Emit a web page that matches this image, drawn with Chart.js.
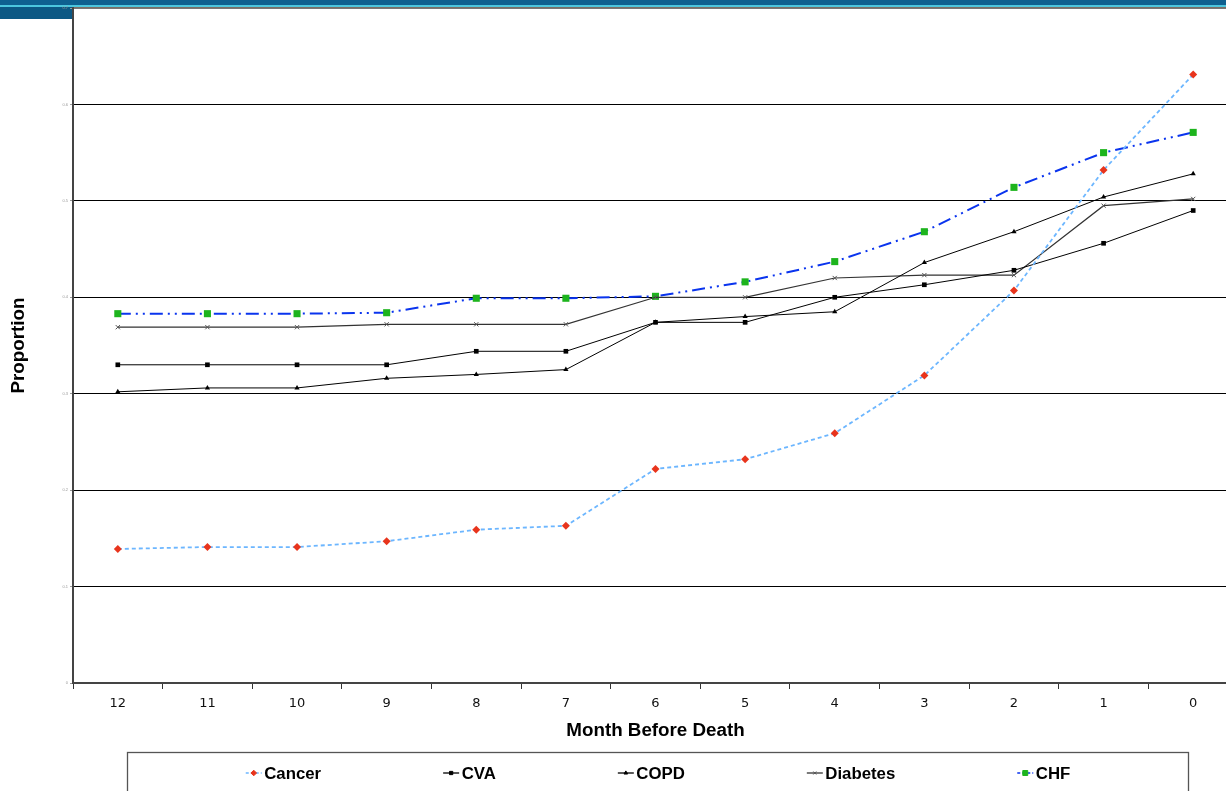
<!DOCTYPE html>
<html><head><meta charset="utf-8">
<script src="https://cdn.jsdelivr.net/npm/chart.js@4.4.1/dist/chart.umd.min.js"></script>
<style>
html,body{margin:0;padding:0;overflow:hidden;background:#fff;width:1226px;height:791px}
#wrap{position:absolute;left:0;top:0;width:1243px;height:791px}
canvas{display:block}
</style></head>
<body><div id="wrap"><canvas id="c" width="1243" height="791" style="width:1243px;height:791px"></canvas></div>
<script>
const months = ['12','11','10','9','8','7','6','5','4','3','2','1','0'];
const cancer   = [0.139,0.141,0.141,0.147,0.159,0.163,0.222,0.232,0.259,0.319,0.407,0.532,0.631];
const cva      = [0.330,0.330,0.330,0.330,0.344,0.344,0.374,0.374,0.400,0.413,0.428,0.456,0.490];
const copd     = [0.302,0.306,0.306,0.316,0.320,0.325,0.374,0.380,0.385,0.436,0.468,0.504,0.528];
const diabetes = [0.369,0.369,0.369,0.372,0.372,0.372,0.400,0.400,0.420,0.423,0.423,0.495,0.502];
const chf      = [0.383,0.383,0.383,0.384,0.399,0.399,0.401,0.416,0.437,0.468,0.514,0.550,0.571];
const yTicks   = [0,0.1,0.2,0.3,0.4,0.5,0.6,0.7];

const bannerPlugin = {
  id:'banner',
  beforeDraw(chart){
    const ctx = chart.ctx;
    ctx.save();
    ctx.fillStyle='#fff'; ctx.fillRect(0,0,chart.width,chart.height);
    ctx.fillStyle='#0e6090'; ctx.fillRect(0,0,chart.width,5);
    ctx.fillStyle='#4cc6de'; ctx.fillRect(0,5,chart.width,2);
    ctx.fillStyle='#7a6e66'; ctx.fillRect(73,7,chart.width,1);
    ctx.fillStyle='#0c5884'; ctx.fillRect(0,7,73,12);
    ctx.restore();
  }
};

const legendPlugin = {
  id:'boxLegend',
  afterDraw(chart){
    const ctx = chart.ctx;
    ctx.save();
    ctx.strokeStyle='#555'; ctx.lineWidth=1.3; ctx.setLineDash([]);
    ctx.strokeRect(127.5,752.5,1061,80);
    ctx.font='bold 16.8px "Liberation Sans", Arial, sans-serif';
    ctx.textBaseline='middle';
    const items = chart.data.datasets.map(ds=>({ds, w:18.5+ctx.measureText(ds.label).width}));
    const gap = 122;
    const total = items.reduce((s,i)=>s+i.w,0)+gap*(items.length-1);
    let x = 658 - total/2;
    const y = 773;
    items.forEach(it=>{
      const ds = it.ds;
      ctx.strokeStyle = ds.borderColor; ctx.lineWidth = 1.3;
      ctx.setLineDash(ds.borderDash && ds.borderDash.length ? [3,2] : []);
      ctx.beginPath(); ctx.moveTo(x,y); ctx.lineTo(x+16,y); ctx.stroke();
      ctx.setLineDash([]);
      ctx.fillStyle = ds.pointBackgroundColor; ctx.strokeStyle = ds.pointBorderColor;
      ctx.lineWidth = 1;
      Chart.helpers.drawPoint(ctx,{pointStyle:ds.pointStyle, radius:ds.pointRadius*0.7, borderWidth:1, rotation:0}, x+8, y);
      ctx.fillStyle='#000';
      ctx.fillText(ds.label, x+18.5, y+1);
      x += it.w + gap;
    });
    ctx.restore();
  }
};

const titleFont = {family:'"Liberation Sans", Arial, sans-serif', size:18.8, weight:'bold'};

new Chart(document.getElementById('c'), {
  type:'line',
  data:{
    labels: months,
    datasets:[
      {label:'Cancer', data:cancer, borderColor:'#6cb6ff', borderWidth:1.8, borderDash:[4,3],
       pointStyle:'rectRot', pointRadius:4, pointBackgroundColor:'#e8341c', pointBorderColor:'#e8341c', pointBorderWidth:0, tension:0},
      {label:'CVA', data:cva, borderColor:'#000', borderWidth:1,
       pointStyle:'rect', pointRadius:3.3, pointBackgroundColor:'#000', pointBorderColor:'#000', pointBorderWidth:0, tension:0},
      {label:'COPD', data:copd, borderColor:'#000', borderWidth:1,
       pointStyle:'triangle', pointRadius:3, pointBackgroundColor:'#000', pointBorderColor:'#000', pointBorderWidth:0, tension:0},
      {label:'Diabetes', data:diabetes, borderColor:'#333', borderWidth:1.2,
       pointStyle:'crossRot', pointRadius:3, pointBackgroundColor:'#555', pointBorderColor:'#555', pointBorderWidth:1, tension:0},
      {label:'CHF', data:chf, borderColor:'#0a34ee', borderWidth:2, borderDash:[13,5,2,5,2,5],
       pointStyle:'rect', pointRadius:5, pointBackgroundColor:'#1db41d', pointBorderColor:'#1db41d', pointBorderWidth:0, tension:0}
    ]
  },
  options:{
    responsive:false, animation:false,
    layout:{padding:{top:8,right:0,bottom:48,left:0}},
    plugins:{legend:{display:false}, tooltip:{enabled:false}},
    elements:{point:{hoverRadius:4}},
    scales:{
      x:{
        offset:true,
        grid:{offset:true, drawOnChartArea:false, drawTicks:true, tickLength:6, color:'#333', lineWidth:1},
        border:{color:'#444', width:2},
        ticks:{color:'#111', font:{family:'"DejaVu Sans", sans-serif', size:13}, padding:7, maxRotation:0, autoSkip:false},
        title:{display:true, text:'Month Before Death', color:'#000', font:titleFont, padding:{top:0,bottom:1}},
        afterFit(s){ s.height = 60; }
      },
      y:{
        min:0, max:0.7,
        afterBuildTicks(s){ s.ticks = yTicks.map(v=>({value:v})); },
        grid:{color:(c)=> (c.tick && (c.tick.value===0.7)) ? '#777' : '#000', lineWidth:1, tickLength:3, tickColor:'#999'},
        border:{color:'#444', width:2},
        ticks:{color:'#999', font:{size:4}, padding:2, callback:(v)=>String(v)},
        title:{display:true, text:'Proportion', color:'#000', font:titleFont, padding:{top:8,bottom:0}},
        afterFit(s){ s.width = 73; }
      }
    }
  },
  plugins:[bannerPlugin, legendPlugin]
});
</script>
</body></html>
